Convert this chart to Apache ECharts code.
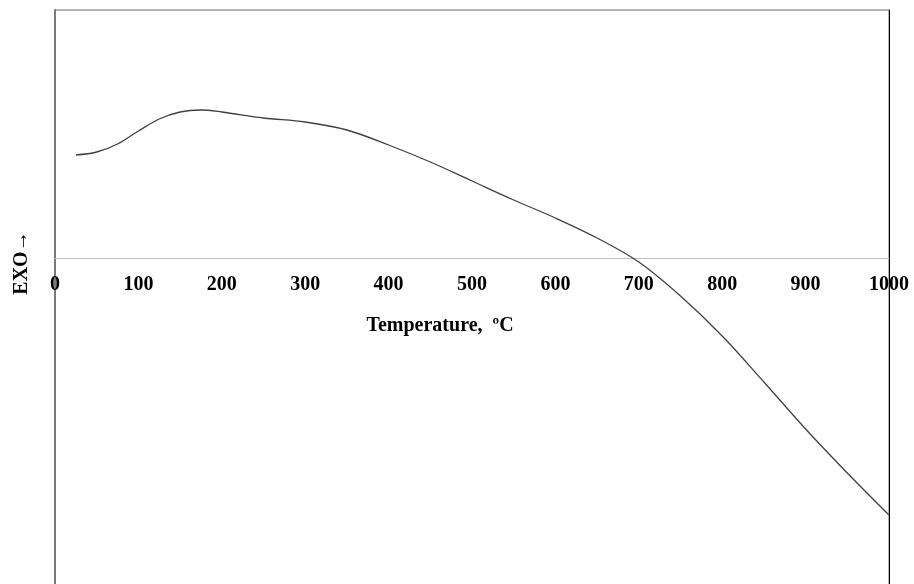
<!DOCTYPE html>
<html>
<head>
<meta charset="utf-8">
<script src="https://cdn.jsdelivr.net/npm/echarts@6/dist/echarts.min.js"></script>
<style>html,body{margin:0;padding:0;background:#fff;overflow:hidden}#c{width:914px;height:600px}</style>
</head>
<body>
<div id="c"></div>
<script>
var temperature = [25, 50, 75, 100, 125, 150, 175, 200, 250, 300, 350, 400, 450, 500, 550, 600, 650, 700, 750, 800, 850, 900, 950, 1000];
var signal = [103, 106, 114, 127, 139, 146, 148, 146, 140, 136, 128, 113, 96, 77, 58, 40, 20, -4, -38, -78, -124, -171, -215, -257];
var xTicks = [0, 100, 200, 300, 400, 500, 600, 700, 800, 900, 1000];

var chart = echarts.init(document.getElementById('c'), null, {renderer: 'canvas'});
var font = '"Liberation Serif", "Times New Roman", serif';
var yMin = -340, yMax = 248;
chart.setOption({
  animation: false,
  backgroundColor: '#ffffff',
  grid: {left: 55, right: 25, top: 10, bottom: 2, show: true, borderColor: '#666666', borderWidth: 1, backgroundColor: 'transparent'},
  xAxis: {
    type: 'value', min: xTicks[0], max: xTicks[xTicks.length - 1], interval: 100,
    position: 'bottom', offset: -340,
    name: 'Temperature,  \u00baC', nameLocation: 'middle', nameGap: 58,
    nameTextStyle: {fontFamily: font, fontWeight: 'bold', fontSize: 20, color: '#000', padding: [0, 64, 0, 0]},
    axisLine: {onZero: false, lineStyle: {color: '#bfbfbf', width: 1}},
    axisTick: {show: false},
    splitLine: {show: false},
    axisLabel: {fontFamily: font, fontWeight: 'bold', fontSize: 20, color: '#000', margin: 17,
      showMinLabel: true, showMaxLabel: true, formatter: function (v) { return String(v); }}
  },
  yAxis: [{
    type: 'value', min: yMin, max: yMax,
    name: 'EXO\u2192', nameLocation: 'middle', nameGap: 23, nameRotate: 90,
    nameTextStyle: {fontFamily: font, fontWeight: 'bold', fontSize: 20, color: '#000', padding: [0, 0, 0, 82]},
    axisLine: {show: true, onZero: false, lineStyle: {color: '#7a7a7a', width: 2}},
    axisTick: {show: false}, axisLabel: {show: false}, splitLine: {show: false}
  }, {
    type: 'value', min: yMin, max: yMax, position: 'right',
    axisLine: {show: true, onZero: false, lineStyle: {color: '#000', width: 1}},
    axisTick: {show: false}, axisLabel: {show: false}, splitLine: {show: false}
  }],
  series: [{
    type: 'line', smooth: 0.35, showSymbol: false,
    data: temperature.map(function (t, i) { return [t, signal[i]]; }),
    lineStyle: {color: '#404040', width: 1.3}
  }]
});
</script>
</body>
</html>
